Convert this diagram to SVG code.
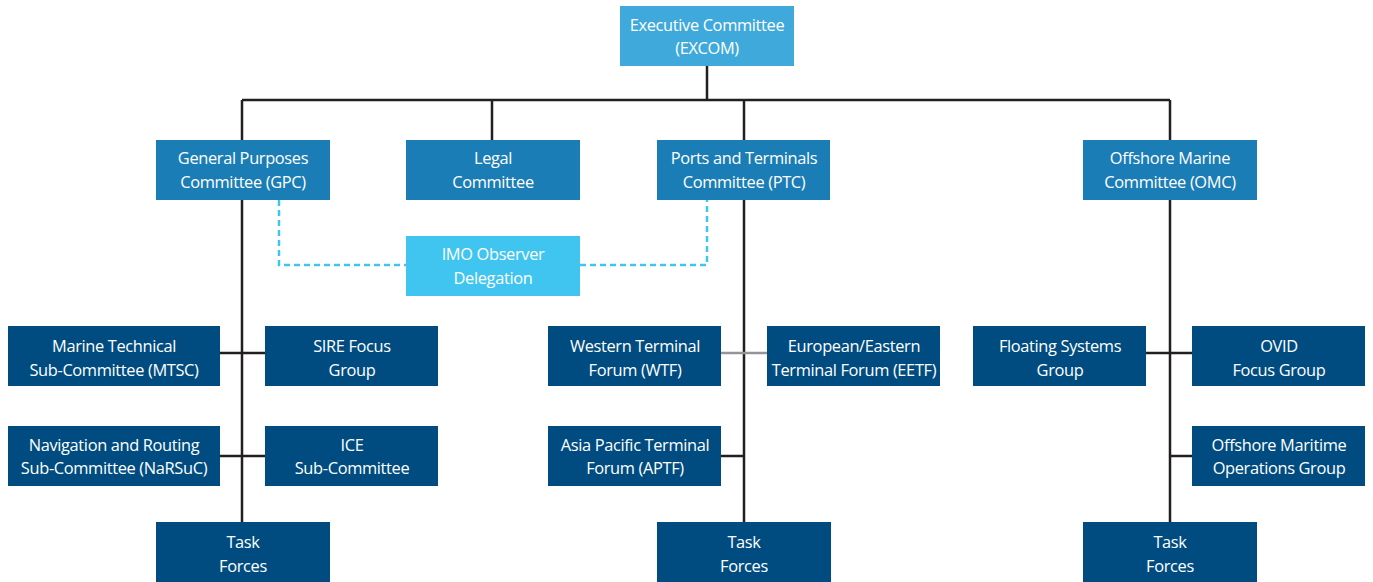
<svg xmlns="http://www.w3.org/2000/svg" width="1373" height="582" viewBox="0 0 1373 582">
<style>
.t{font-family:"Open Sans","Noto Sans","Liberation Sans",sans-serif;font-size:16.4px;fill:#fff;text-anchor:middle;letter-spacing:-0.35px}
.ex{fill:#3fa9dc}.c{fill:#1b7db6}.imo{fill:#40c5f1}.d{fill:#004c80}
.ln{stroke:#231f20;stroke-width:2.5;fill:none}
.gy{stroke:#939598;stroke-width:2.5;fill:none}
.ds{stroke:#40c5f1;stroke-width:2.5;fill:none;stroke-dasharray:6 4}
</style>
<rect width="1373" height="582" fill="#fff"/>
<g id="connectors">
<path class="ln" d="M707 66V100M242 100H1170M242 100V140M492 100V140M744 100V140M1170 100V140"/>
<path class="ln" d="M242 200V522M220 353H265M220 456H265"/>
<path class="ln" d="M744 200V522M721 456H744"/>
<path class="gy" d="M721 353H767"/>
<path class="ln" d="M1170 200V522M1146 353H1192M1170 456H1192"/>
<path class="ds" d="M279 200V265H406M580 265H707V200"/>
</g>
<g id="excom"><rect class="ex" x="620" y="6" width="174" height="60"/><text class="t" x="707" y="31">Executive Committee</text><text class="t" x="707" y="54">(EXCOM)</text></g>
<g id="gpc"><rect class="c" x="156" y="140" width="174" height="60"/><text class="t" x="243" y="164">General Purposes</text><text class="t" x="243" y="188">Committee (GPC)</text></g>
<g id="legal"><rect class="c" x="406" y="140" width="174" height="60"/><text class="t" x="493" y="164">Legal</text><text class="t" x="493" y="188">Committee</text></g>
<g id="ptc"><rect class="c" x="657" y="140" width="173" height="60"/><text class="t" x="744" y="164">Ports and Terminals</text><text class="t" x="744" y="188">Committee (PTC)</text></g>
<g id="omc"><rect class="c" x="1083" y="140" width="174" height="60"/><text class="t" x="1170" y="164">Offshore Marine</text><text class="t" x="1170" y="188">Committee (OMC)</text></g>
<g id="imo"><rect class="imo" x="406" y="236" width="174" height="60"/><text class="t" x="493" y="260">IMO Observer</text><text class="t" x="493" y="284">Delegation</text></g>
<g id="mtsc"><rect class="d" x="8" y="326" width="212" height="60"/><text class="t" x="114" y="352">Marine Technical</text><text class="t" x="114" y="376">Sub-Committee (MTSC)</text></g>
<g id="sire"><rect class="d" x="265" y="326" width="173" height="60"/><text class="t" x="352" y="352">SIRE Focus</text><text class="t" x="352" y="376">Group</text></g>
<g id="narsuc"><rect class="d" x="8" y="426" width="212" height="60"/><text class="t" x="114" y="451">Navigation and Routing</text><text class="t" x="114" y="474">Sub-Committee (NaRSuC)</text></g>
<g id="ice"><rect class="d" x="265" y="426" width="173" height="60"/><text class="t" x="352" y="451">ICE</text><text class="t" x="352" y="474">Sub-Committee</text></g>
<g id="wtf"><rect class="d" x="548" y="326" width="173" height="60"/><text class="t" x="635" y="352">Western Terminal</text><text class="t" x="635" y="376">Forum (WTF)</text></g>
<g id="eetf"><rect class="d" x="767" y="326" width="173" height="60"/><text class="t" x="854" y="352">European/Eastern</text><text class="t" x="854" y="376">Terminal Forum (EETF)</text></g>
<g id="aptf"><rect class="d" x="548" y="426" width="173" height="60"/><text class="t" x="635" y="451">Asia Pacific Terminal</text><text class="t" x="635" y="474">Forum (APTF)</text></g>
<g id="fsg"><rect class="d" x="973" y="326" width="173" height="60"/><text class="t" x="1060" y="352">Floating Systems</text><text class="t" x="1060" y="376">Group</text></g>
<g id="ovid"><rect class="d" x="1192" y="326" width="173" height="60"/><text class="t" x="1279" y="352">OVID</text><text class="t" x="1279" y="376">Focus Group</text></g>
<g id="omog"><rect class="d" x="1192" y="426" width="173" height="60"/><text class="t" x="1279" y="451">Offshore Maritime</text><text class="t" x="1279" y="474">Operations Group</text></g>
<g id="tf1"><rect class="d" x="156" y="522" width="174" height="60"/><text class="t" x="243" y="548">Task</text><text class="t" x="243" y="572">Forces</text></g>
<g id="tf2"><rect class="d" x="657" y="522" width="174" height="60"/><text class="t" x="744" y="548">Task</text><text class="t" x="744" y="572">Forces</text></g>
<g id="tf3"><rect class="d" x="1083" y="522" width="174" height="60"/><text class="t" x="1170" y="548">Task</text><text class="t" x="1170" y="572">Forces</text></g>
</svg>
